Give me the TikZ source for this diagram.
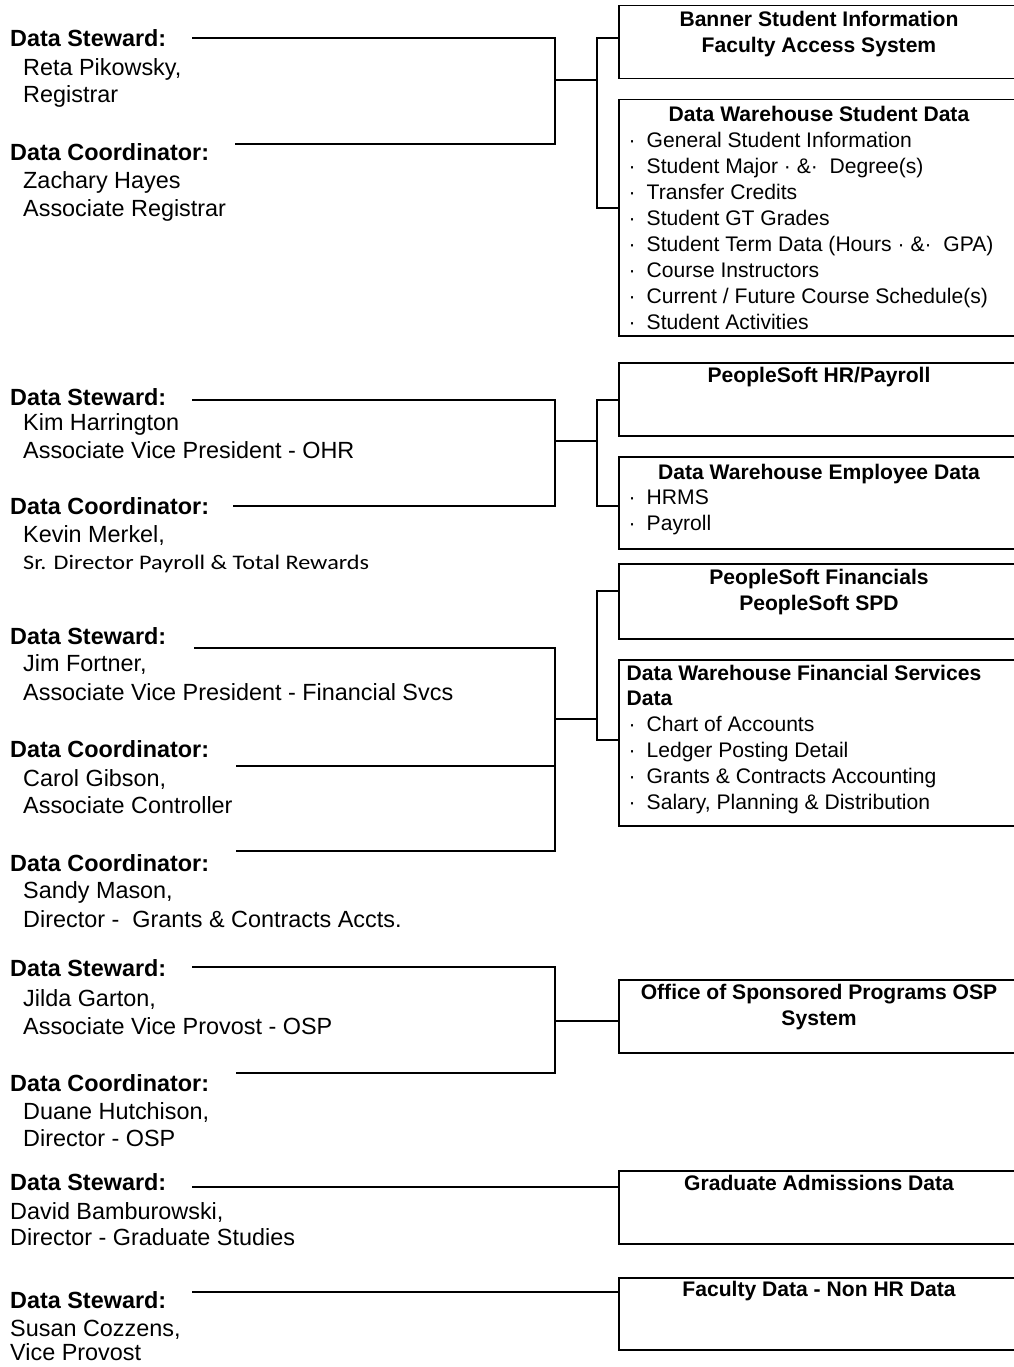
\documentclass[tikz,border=0pt]{standalone}
\usepackage{fontspec}
\setmainfont{Liberation Sans}
\newfontfamily\calfont[FakeStretch=1.17]{Carlito}
\usetikzlibrary{positioning}

\tikzstyle{who-lbl} = [anchor=west, inner sep=0pt, font=\fontsize{23.4}{28}\selectfont\bfseries, text height=21pt, text depth=4.2pt]
\tikzstyle{who} = [anchor=west, inner sep=0pt, font=\fontsize{23.4}{28}\selectfont, text height=21pt, text depth=4.2pt]
\tikzstyle{sys} = [rectangle, draw=black, line width=1.5pt, minimum width=402pt, anchor=north west, inner sep=0pt]
\tikzstyle{sys-title} = [inner sep=0pt, font=\fontsize{21.1}{26}\selectfont\bfseries, text height=19pt, text depth=3.9pt]
\tikzstyle{sys-item} = [anchor=west, inner sep=0pt, font=\fontsize{21.1}{26}\selectfont, text height=19pt, text depth=3.9pt]
\tikzstyle{wire} = [line width=1.5pt]
\tikzstyle{wire-thick} = [line width=2pt]

\newcommand{\dwbul}{\textperiodcentered\hspace*{11pt}}

\begin{document}
\begin{tikzpicture}[x=1pt, y=-1pt, node distance=26pt]
  \useasboundingbox (0,0) rectangle (1013,1367);

  % registrar
  \node (ds_reg) [who-lbl] at (10,38) {Data Steward:};
  \node (ds_reg_n) [who, below=29pt of ds_reg.west, anchor=west, xshift=13pt] {Reta Pikowsky,};
  \node (ds_reg_t) [who, below=27pt of ds_reg_n.west, anchor=west] {Registrar};
  \node (dc_reg) [who-lbl] at (10,152) {Data Coordinator:};
  \node (dc_reg_n) [who, below=28pt of dc_reg.west, anchor=west, xshift=13pt] {Zachary Hayes};
  \node (dc_reg_t) [who, below=28pt of dc_reg_n.west, anchor=west] {Associate Registrar};

  \node (banner) [sys, minimum height=73pt] at (618,5) {};
  \node (banner_t1) [sys-title] at (819,19) {Banner Student Information};
  \node (banner_t2) [sys-title, below of=banner_t1] {Faculty Access System};
  \node (dws) [sys, minimum height=236pt] at (618,99) {};
  \node (dws_t) [sys-title] at (819,114) {Data Warehouse Student Data};
  \node (dws_1) [sys-item] at (628.5,140) {\dwbul General Student Information};
  \node (dws_2) [sys-item, below=26pt of dws_1.west, anchor=west] {\dwbul Student Major \textperiodcentered\ \&\textperiodcentered\ \ Degree(s)};
  \node (dws_3) [sys-item, below=26pt of dws_2.west, anchor=west] {\dwbul Transfer Credits};
  \node (dws_4) [sys-item, below=26pt of dws_3.west, anchor=west] {\dwbul Student GT Grades};
  \node (dws_5) [sys-item, below=26pt of dws_4.west, anchor=west] {\dwbul Student Term Data (Hours \textperiodcentered\ \&\textperiodcentered\ \ GPA)};
  \node (dws_6) [sys-item, below=26pt of dws_5.west, anchor=west] {\dwbul Course Instructors};
  \node (dws_7) [sys-item, below=26pt of dws_6.west, anchor=west] {\dwbul Current / Future Course Schedule(s)};
  \node (dws_8) [sys-item, below=26pt of dws_7.west, anchor=west] {\dwbul Student Activities};

  % human resources
  \node (ds_ohr) [who-lbl] at (10,397) {Data Steward:};
  \node (ds_ohr_n) [who, below=25pt of ds_ohr.west, anchor=west, xshift=13pt] {Kim Harrington};
  \node (ds_ohr_t) [who, below=28pt of ds_ohr_n.west, anchor=west] {Associate Vice President - OHR};
  \node (dc_ohr) [who-lbl] at (10,506) {Data Coordinator:};
  \node (dc_ohr_n) [who, below=28pt of dc_ohr.west, anchor=west, xshift=13pt] {Kevin Merkel,};
  \node (dc_ohr_t) [who, font=\calfont\fontsize{20.7}{24}\selectfont, below=27pt of dc_ohr_n.west, anchor=west] {Sr. Director Payroll \& Total Rewards};

  \node (hr) [sys, minimum height=73pt] at (618,362) {};
  \node (hr_t) [sys-title] at (819,375) {PeopleSoft HR/Payroll};
  \node (dwe) [sys, minimum height=92pt] at (618,456) {};
  \node (dwe_t) [sys-title] at (819,472) {Data Warehouse Employee Data};
  \node (dwe_1) [sys-item] at (628.5,497) {\dwbul HRMS};
  \node (dwe_2) [sys-item, below=26pt of dwe_1.west, anchor=west] {\dwbul Payroll};

  % financial services
  \node (ds_fin) [who-lbl] at (10,636) {Data Steward:};
  \node (ds_fin_n) [who, below=27pt of ds_fin.west, anchor=west, xshift=13pt] {Jim Fortner,};
  \node (ds_fin_t) [who, below=29pt of ds_fin_n.west, anchor=west] {Associate Vice President - Financial Svcs};
  \node (dc_fin) [who-lbl] at (10,749) {Data Coordinator:};
  \node (dc_fin_n) [who, below=29pt of dc_fin.west, anchor=west, xshift=13pt] {Carol Gibson,};
  \node (dc_fin_t) [who, below=27pt of dc_fin_n.west, anchor=west] {Associate Controller};
  \node (dc_gca) [who-lbl] at (10,863) {Data Coordinator:};
  \node (dc_gca_n) [who, below=27pt of dc_gca.west, anchor=west, xshift=13pt] {Sandy Mason,};
  \node (dc_gca_t) [who, below=29pt of dc_gca_n.west, anchor=west] {Director -\ \ Grants \& Contracts Accts.};

  \node (fin) [sys, minimum height=75pt] at (618,563) {};
  \node (fin_t1) [sys-title] at (819,577) {PeopleSoft Financials};
  \node (fin_t2) [sys-title, below of=fin_t1] {PeopleSoft SPD};
  \node (dwf) [sys, minimum height=166pt] at (618,659) {};
  \node (dwf_t1) [sys-title, anchor=west] at (626.5,673) {Data Warehouse Financial Services};
  \node (dwf_t2) [sys-title, below=25pt of dwf_t1.west, anchor=west] {Data};
  \node (dwf_1) [sys-item] at (628.5,724) {\dwbul Chart of Accounts};
  \node (dwf_2) [sys-item, below=26pt of dwf_1.west, anchor=west] {\dwbul Ledger Posting Detail};
  \node (dwf_3) [sys-item, below=26pt of dwf_2.west, anchor=west] {\dwbul Grants \& Contracts Accounting};
  \node (dwf_4) [sys-item, below=26pt of dwf_3.west, anchor=west] {\dwbul Salary, Planning \& Distribution};

  % sponsored programs
  \node (ds_osp) [who-lbl] at (10,968) {Data Steward:};
  \node (ds_osp_n) [who, below=30pt of ds_osp.west, anchor=west, xshift=13pt] {Jilda Garton,};
  \node (ds_osp_t) [who, below=28pt of ds_osp_n.west, anchor=west] {Associate Vice Provost - OSP};
  \node (dc_osp) [who-lbl] at (10,1083) {Data Coordinator:};
  \node (dc_osp_n) [who, below=28pt of dc_osp.west, anchor=west, xshift=13pt] {Duane Hutchison,};
  \node (dc_osp_t) [who, below=27pt of dc_osp_n.west, anchor=west] {Director - OSP};

  \node (osp) [sys, minimum height=73pt] at (618,979) {};
  \node (osp_t1) [sys-title] at (819,992) {Office of Sponsored Programs OSP};
  \node (osp_t2) [sys-title, below of=osp_t1] {System};

  % graduate studies
  \node (ds_grad) [who-lbl] at (10,1182) {Data Steward:};
  \node (ds_grad_n) [who, below=29pt of ds_grad.west, anchor=west] {David Bamburowski,};
  \node (ds_grad_t) [who, below=26pt of ds_grad_n.west, anchor=west] {Director - Graduate Studies};
  \node (grad) [sys, minimum height=73pt] at (618,1170) {};
  \node (grad_t) [sys-title] at (819,1183) {Graduate Admissions Data};

  % faculty
  \node (ds_fac) [who-lbl] at (10,1300) {Data Steward:};
  \node (ds_fac_n) [who, below=28pt of ds_fac.west, anchor=west] {Susan Cozzens,};
  \node (ds_fac_t) [who, text depth=0pt, below=26pt of ds_fac_n.west, anchor=west, yshift=4pt] {Vice Provost};
  \node (fac) [sys, minimum height=72pt] at (618,1277) {};
  \node (fac_t) [sys-title] at (819,1289) {Faculty Data - Non HR Data};

  % connector ends
  \coordinate (ds_reg_l) at (192,38);
  \coordinate (dc_reg_l) at (235,144);
  \coordinate (reg_j) at (555,80);
  \coordinate (reg_k) at (597,80);
  \coordinate (ds_ohr_l) at (192,400);
  \coordinate (dc_ohr_l) at (233,506);
  \coordinate (ohr_j) at (555,441);
  \coordinate (ohr_k) at (597,441);
  \coordinate (ds_fin_l) at (194,648);
  \coordinate (dc_fin_l) at (236,766);
  \coordinate (dc_gca_l) at (236,851);
  \coordinate (fin_j) at (555,719);
  \coordinate (fin_k) at (597,719);
  \coordinate (ds_osp_l) at (192,967);
  \coordinate (dc_osp_l) at (236,1073);
  \coordinate (osp_j) at (555,1021);
  \coordinate (ds_grad_l) at (192,1187);
  \coordinate (ds_fac_l) at (192,1292);

  \draw [wire] (ds_reg_l) -| (reg_j) |- (dc_reg_l);
  \draw [wire-thick] (reg_j) -- (reg_k);
  \draw [wire] (banner.west |- 0,38) -| (reg_k) |- (dws.west |- 0,208);

  \draw [wire] (ds_ohr_l) -| (ohr_j) |- (dc_ohr_l);
  \draw [wire-thick] (ohr_j) -- (ohr_k);
  \draw [wire] (hr.west |- 0,400) -| (ohr_k) |- (dwe.west |- 0,506);

  \draw [wire] (ds_fin_l) -| (fin_j) |- (dc_gca_l);
  \draw [wire] (dc_fin_l) -- (dc_fin_l -| fin_j);
  \draw [wire-thick] (fin_j) -- (fin_k);
  \draw [wire] (fin.west |- 0,591) -| (fin_k) |- (dwf.west |- 0,740);

  \draw [wire] (ds_osp_l) -| (osp_j) |- (dc_osp_l);
  \draw [wire] (osp_j) -- (osp_j -| osp.west);

  \draw [wire] (ds_grad_l) -- (ds_grad_l -| grad.west);
  \draw [wire-thick] (ds_fac_l) -- (ds_fac_l -| fac.west);
\end{tikzpicture}
\end{document}
